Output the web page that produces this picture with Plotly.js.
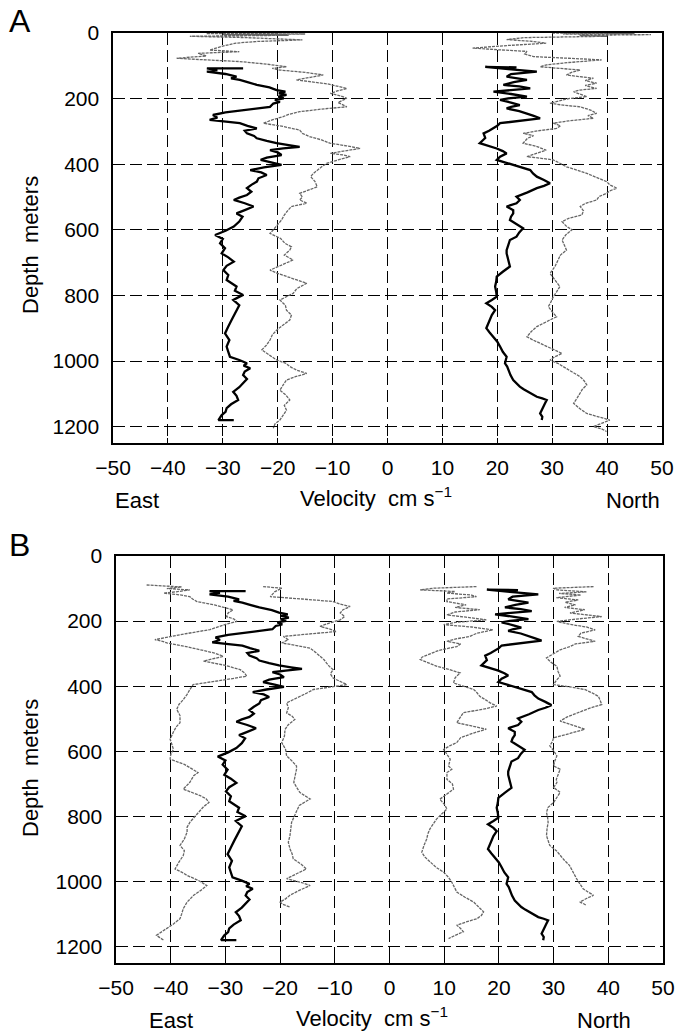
<!DOCTYPE html>
<html>
<head>
<meta charset="utf-8">
<script src="https://cdn.plot.ly/plotly-3.0.1.min.js"></script>
<style>html,body{margin:0;padding:0;background:#fff;}#chart{width:677px;height:1036px;}</style>
</head>
<body>
<div id="chart"></div>
<script>
// ---- data: [depth (m), velocity (cm/s)] ----
const blackEast = [[108,-26.3],[108,-32.9],[113,-31.0],[118,-32.9],[125,-29.5],[133,-27.5],[138,-28.5],[143,-26.9],[150,-25.5],[158,-23.8],[166,-21.5],[174,-20.2],[179,-18.6],[184,-19.8],[189,-18.4],[194,-19.9],[199,-18.9],[204,-20.5],[210,-19.6],[215,-20.8],[225,-21.4],[230,-24.0],[235,-26.9],[242,-29.5],[250,-31.8],[258,-31.0],[265,-32.4],[270,-29.5],[275,-26.9],[283,-25.5],[291,-23.8],[298,-26.0],[306,-25.6],[314,-24.3],[321,-23.8],[329,-22.0],[336,-20.2],[342,-18.0],[347,-16.0],[352,-19.0],[357,-21.4],[364,-20.0],[372,-19.3],[380,-22.0],[387,-23.1],[395,-21.0],[402,-19.3],[410,-22.5],[418,-25.0],[425,-23.0],[433,-22.0],[443,-23.5],[453,-23.8],[463,-24.8],[473,-25.6],[484,-24.8],[494,-25.6],[502,-27.0],[509,-28.0],[519,-26.0],[529,-24.4],[540,-26.0],[550,-27.5],[560,-26.4],[575,-27.0],[590,-28.0],[603,-29.5],[616,-31.4],[628,-30.0],[641,-30.5],[656,-29.6],[672,-30.2],[684,-29.0],[697,-28.0],[710,-29.3],[723,-29.9],[738,-29.0],[753,-29.3],[763,-28.4],[773,-27.5],[786,-27.8],[799,-26.3],[806,-27.2],[814,-28.1],[830,-27.0],[845,-27.5],[860,-28.0],[875,-28.4],[895,-29.0],[916,-29.6],[936,-28.8],[956,-29.3],[972,-29.0],[987,-28.7],[997,-27.0],[1007,-25.6],[1014,-26.2],[1022,-25.0],[1032,-26.0],[1043,-26.3],[1055,-25.6],[1068,-26.3],[1080,-27.0],[1094,-28.1],[1106,-27.5],[1119,-27.2],[1132,-28.5],[1144,-29.3],[1155,-29.5],[1165,-30.2],[1172,-30.5],[1180,-30.8],[1180,-28.0]];

const blackNorth = [[105,23.5],[103,17.8],[110,22.0],[118,27.2],[125,22.5],[133,21.7],[143,25.4],[150,23.0],[158,21.1],[163,24.0],[169,26.0],[174,23.0],[179,19.3],[186,22.5],[194,25.4],[199,22.0],[204,20.5],[212,22.5],[220,24.1],[225,22.5],[230,21.7],[238,24.0],[245,25.4],[252,26.5],[260,27.8],[268,24.0],[275,20.5],[283,20.0],[291,19.3],[298,18.5],[306,17.5],[320,17.8],[336,16.8],[344,18.5],[352,19.9],[360,21.0],[367,21.7],[377,20.5],[387,19.9],[395,21.5],[402,22.9],[410,24.5],[418,26.0],[428,26.5],[438,27.2],[448,28.5],[458,29.6],[466,28.5],[473,27.2],[486,25.5],[499,23.5],[509,24.1],[519,23.5],[529,21.7],[540,22.9],[550,22.9],[560,22.5],[570,22.3],[583,23.5],[595,24.7],[608,24.0],[621,23.5],[631,22.3],[646,22.0],[662,21.7],[672,21.7],[692,22.0],[712,22.3],[728,21.0],[743,19.9],[758,19.8],[773,19.6],[789,19.8],[804,19.9],[814,19.0],[824,18.0],[835,19.0],[845,19.6],[860,19.0],[875,18.6],[888,18.3],[900,18.0],[913,18.6],[926,19.3],[941,20.0],[956,20.5],[972,21.0],[987,21.7],[997,21.5],[1007,21.4],[1017,21.8],[1028,22.0],[1043,22.4],[1058,22.9],[1068,23.5],[1078,24.1],[1086,24.8],[1094,25.6],[1102,26.5],[1109,27.2],[1114,28.2],[1119,29.0],[1129,28.7],[1139,28.4],[1150,28.0],[1160,27.8],[1170,28.2],[1180,28.1]];

const grayEastA = [[0,-20],[2,-33],[3,-15],[5,-30],[7,-18],[10,-36],[14,-26],[21,-15.5],[26,-24],[31,-27.6],[40,-30],[52,-32.4],[57,-27],[62,-34.5],[70,-33],[77,-38.4],[82,-33],[87,-26.9],[95,-22],[103,-18.4],[108,-21],[113,-19.6],[120,-15],[128,-11.7],[135,-14],[143,-16.6],[155,-11],[169,-7.4],[176,-9],[184,-10.4],[192,-8.5],[199,-7.4],[212,-9],[225,-7.4],[232,-12],[240,-16],[248,-18],[255,-19],[265,-21],[275,-22.6],[285,-19],[296,-16],[306,-15.5],[316,-14.2],[326,-12],[336,-10.5],[344,-7.5],[352,-5.0],[360,-8],[367,-10.4],[372,-8],[377,-6.8],[387,-9],[397,-11],[408,-12],[418,-12.8],[428,-13.5],[438,-14],[453,-13.2],[469,-12.8],[479,-14.5],[489,-16],[500,-15.5],[509,-16.0],[519,-14.7],[529,-17.5],[540,-18.1],[555,-18.8],[570,-19.3],[590,-20.2],[600,-20.8],[611,-21.4],[626,-19.5],[641,-18.7],[652,-17.5],[662,-17.8],[677,-18.8],[692,-17.2],[708,-19.5],[723,-21.4],[733,-20.0],[743,-18.4],[753,-16.5],[763,-14.7],[779,-16.5],[794,-17.2],[804,-18.5],[814,-19.6],[830,-18.6],[845,-18.4],[860,-17.5],[875,-17.8],[890,-19.0],[906,-20.2],[921,-21.0],[936,-21.4],[951,-22.0],[966,-22.9],[982,-21.5],[997,-20.2],[1007,-18.5],[1017,-17.8],[1028,-16.5],[1038,-14.7],[1048,-16.8],[1058,-18.4],[1073,-19.0],[1089,-19.6],[1104,-18.5],[1119,-17.8],[1135,-18.8],[1150,-18.4],[1165,-19.0],[1180,-19.6],[1192,-20.5],[1205,-20.8]];

const grayNorthA = [[0,30],[2,45],[3,32],[5,48],[7,35],[10,40],[14,25],[20,21.7],[25,26],[31,28.9],[38,22],[46,15.5],[51,20],[56,25.4],[64,25],[72,26.6],[77,33],[82,39.0],[90,33],[97,29],[103,27.8],[108,31],[113,35.1],[120,33.5],[128,32.6],[133,35],[138,37.5],[145,36],[153,38.1],[160,36],[169,38.1],[174,35],[179,33.9],[186,35],[194,36.3],[200,33],[207,31],[214,29.6],[220,32],[225,35.1],[235,37],[245,38.1],[252,36.5],[260,37.5],[268,33],[275,30.2],[283,31.5],[291,30.8],[298,27.5],[306,24.7],[313,26.6],[321,25.5],[336,24.7],[345,27],[357,28.9],[367,27],[377,25.4],[382,28],[387,30.2],[398,31.5],[408,32.6],[418,34.5],[428,36.3],[440,38],[453,39.9],[463,40.5],[473,41.8],[481,40.5],[489,39.9],[499,38.5],[509,38.1],[520,36],[529,35.1],[542,35.7],[555,35.4],[565,33],[575,31.8],[588,32.5],[600,33.6],[615,32.5],[631,31.8],[646,32.2],[662,32.6],[677,31.5],[692,31.1],[712,30.5],[733,29.6],[753,30.5],[773,31.4],[789,30.8],[804,30.2],[819,29.8],[834,29.3],[850,30],[865,30.8],[880,29],[895,27.2],[910,26.2],[926,25.4],[936,26.5],[946,27.8],[962,30],[977,31.8],[987,30.5],[997,29.6],[1007,31],[1017,32.0],[1032,33.5],[1048,35.1],[1060,35.8],[1073,36.3],[1086,35.5],[1099,35.1],[1114,34.5],[1129,33.9],[1145,35],[1160,36.3],[1170,38.5],[1180,40.5],[1190,39],[1200,37.5],[1207,39],[1215,39.9]];

const grayEastLeftB = [[89,-44.4],[95,-38],[100,-40.7],[104,-36.5],[110,-39],[114,-41.3],[120,-38],[125,-36.5],[132,-36],[140,-35.2],[150,-32],[158,-30],[165,-28.6],[175,-29.5],[186,-29.8],[193,-28.5],[201,-27.9],[210,-30],[218,-31.5],[226,-32.8],[238,-37],[250,-41],[257,-42.9],[262,-41.5],[267,-40.7],[277,-37.5],[288,-34.6],[298,-32],[308,-30.4],[316,-32.5],[323,-34.0],[336,-30],[349,-27.3],[359,-26.5],[369,-26.1],[380,-30],[390,-34],[395,-35.9],[410,-36.5],[425,-37],[441,-37.7],[456,-38.5],[471,-38.9],[490,-38.3],[512,-38.3],[525,-39],[540,-39.5],[563,-40.1],[578,-39.8],[594,-39.5],[610,-40],[624,-40.1],[640,-37.5],[655,-36.0],[665,-35],[675,-35.8],[695,-36.5],[716,-37.7],[726,-36],[736,-34.6],[746,-33.5],[757,-33.0],[770,-34],[782,-34.6],[800,-35.5],[818,-36.5],[833,-37],[848,-37.0],[869,-37.5],[889,-38.3],[905,-37.5],[920,-37.7],[940,-38.5],[961,-39.2],[971,-38],[981,-37.0],[996,-35],[1012,-33.4],[1027,-34.5],[1042,-35.8],[1063,-37],[1083,-37.7],[1100,-38],[1114,-38.3],[1130,-39.5],[1144,-40.7],[1155,-41.8],[1165,-42.6],[1172,-42],[1180,-41.3]];

const grayEastRightB = [[94,-23.1],[99,-19.7],[110,-21.0],[125,-21.8],[132,-16],[140,-10.3],[148,-9],[155,-7.2],[165,-8.5],[175,-9.0],[186,-8.2],[196,-9.0],[206,-11],[216,-12.7],[224,-11],[232,-9.7],[240,-15],[247,-19.4],[257,-18.5],[267,-19.7],[275,-17],[283,-14.5],[296,-13.5],[308,-12.7],[318,-12],[329,-11.5],[339,-11],[349,-10.3],[362,-10.8],[375,-10.3],[385,-9],[395,-7.8],[403,-11],[410,-13.9],[420,-15],[431,-16.4],[441,-17.5],[451,-18.8],[466,-18.5],[482,-18.8],[492,-17.8],[502,-17.3],[518,-18.5],[533,-19.1],[553,-19.2],[573,-19.7],[594,-19.0],[614,-18.8],[630,-17.8],[645,-17.0],[655,-17.0],[675,-17.2],[695,-17.5],[710,-17.0],[726,-16.4],[736,-15.5],[746,-14.5],[766,-16.5],[787,-17.0],[803,-17.5],[818,-17.9],[840,-18.0],[859,-18.2],[879,-18.5],[899,-18.2],[915,-17.8],[930,-17.6],[946,-16.2],[961,-15.2],[976,-17],[991,-18.8],[1002,-16.2],[1012,-14.5],[1027,-16.5],[1042,-18.2],[1053,-19],[1063,-20.0],[1070,-19.5],[1078,-18.2]];

const grayNorthLeftB = [[94,15.9],[99,8],[104,5.6],[109,12],[114,10.5],[120,15],[125,15.9],[132,10.5],[140,10.5],[150,14],[158,12],[165,16.5],[172,12],[181,10.5],[188,14],[196,17.7],[204,12],[211,9.9],[218,15],[227,18.9],[237,16],[247,14.7],[255,12],[262,10.5],[270,13],[278,12.3],[290,9],[303,6.8],[310,6],[318,5.6],[328,7],[339,8.7],[349,11],[359,12.9],[374,12],[390,11.7],[400,13.5],[410,15.4],[420,16],[431,16.5],[441,17.5],[451,18.4],[461,19.6],[471,17],[481,13.5],[497,12.8],[512,12.3],[522,15],[532,17.7],[543,15.5],[558,13],[573,12.3],[583,11],[594,9.9],[610,10.5],[624,11.1],[645,10.8],[655,11.4],[665,10.5],[686,10.5],[700,11.5],[716,11.7],[731,10.5],[747,9.2],[762,10],[777,10.5],[793,9.5],[808,8.6],[823,8],[838,7.4],[854,7],[869,6.8],[889,6.3],[910,5.9],[925,6.5],[940,7.4],[956,8.5],[971,9.9],[987,10.8],[1002,11.4],[1017,11.8],[1032,12.3],[1048,13.8],[1063,15.4],[1078,16.3],[1093,17.2],[1104,16.8],[1114,16.0],[1124,14],[1134,12.3],[1144,13],[1154,13.5],[1165,12],[1175,10.8]];

const grayNorthRightB = [[94,37.3],[97,32],[99,29.9],[104,30.6],[110,36],[115,31],[120,35],[128,30.5],[135,34.5],[142,32.1],[150,34],[158,32],[165,35.7],[175,33],[186,38.8],[194,34],[201,30.6],[210,33],[218,36],[227,37.6],[237,35],[247,34.5],[255,36],[262,37.6],[270,34],[278,33],[288,31.2],[300,30],[313,28.7],[326,29.5],[339,30.6],[354,30.8],[369,31.2],[382,30.5],[395,30.0],[402,33],[410,35.7],[420,37],[431,38.2],[443,38.5],[456,38.8],[468,36.5],[481,34.5],[494,32.5],[507,31.2],[520,33.5],[532,35.7],[545,33],[558,30],[570,29.8],[583,29.3],[598,30],[614,30.6],[630,30.2],[645,30],[655,31.2],[665,31],[686,30.5],[696,30.6],[711,30],[726,31.2],[742,30.5],[757,30],[772,29],[787,28.7],[803,28.9],[818,29],[838,28.8],[859,28.7],[874,29],[889,29.3],[905,30.5],[920,31.2],[935,32],[950,32.9],[970,33.5],[991,34.2],[1007,34.8],[1022,35.4],[1032,36.3],[1042,37.3],[1052,36],[1063,34.8],[1068,35.5],[1073,36]];

const xTicks = [-50,-40,-30,-20,-10,0,10,20,30,40,50];
const yTicks = [0,200,400,600,800,1000,1200];
const panelLabels = ['A','B'];
const depthLabel = 'Depth\u00a0\u00a0meters';
const eastLabel = 'East', northLabel = 'North';
const velLabel = 'Velocity\u00a0\u00a0cm s<sup>\u22121</sup>';

// ---- drawing ----
const FONT = 'Liberation Sans, Arial, Helvetica, sans-serif';
function line(series, xa, ya, kind) {
  const black = kind === 'black';
  return {
    type: 'scatter', mode: 'lines',
    x: series.map(p => p[1]), y: series.map(p => p[0]),
    xaxis: xa, yaxis: ya, hoverinfo: 'skip', showlegend: false,
    line: black ? {color: '#000', width: 2.3} : {color: '#666', width: 1.3, dash: '3px,1px'}
  };
}
const traces = [
  line(grayEastA, 'x', 'y', 'gray'),
  line(grayNorthA, 'x', 'y', 'gray'),
  line(blackEast, 'x', 'y', 'black'),
  line(blackNorth, 'x', 'y', 'black'),
  line(grayEastLeftB, 'x2', 'y2', 'gray'),
  line(grayEastRightB, 'x2', 'y2', 'gray'),
  line(grayNorthLeftB, 'x2', 'y2', 'gray'),
  line(grayNorthRightB, 'x2', 'y2', 'gray'),
  line(blackEast, 'x2', 'y2', 'black'),
  line(blackNorth, 'x2', 'y2', 'black')
];
const common = {
  showgrid: true, gridcolor: '#000', gridwidth: 1, griddash: '12px,5px',
  zeroline: false, showline: true, mirror: true, linecolor: '#000', linewidth: 1.6,
  ticks: 'inside', ticklen: 5, tickcolor: '#000', tickwidth: 1,
  tickfont: {family: FONT, size: 21, color: '#000'}, fixedrange: true
};
function xax(domain, anchor) {
  return Object.assign({}, common, {domain, anchor, range: [-50, 50], tickmode: 'array', tickvals: xTicks, ticklabelstandoff: 5});
}
function yax(domain, anchor) {
  return Object.assign({}, common, {domain, anchor, range: [1250, 0], tickmode: 'array', tickvals: yTicks, ticklabelstandoff: 8});
}
function ann(text, x, y, opts) {
  return Object.assign({text, x, y, xref: 'paper', yref: 'paper', showarrow: false,
    font: {family: FONT, size: 22, color: '#000'}, xanchor: 'center', yanchor: 'middle'}, opts || {});
}
const W = 677, H = 1036;
const px = v => v / W, py = v => 1 - v / H;
const layout = {
  width: W, height: H, margin: {l: 0, r: 0, t: 0, b: 0},
  paper_bgcolor: '#fff', plot_bgcolor: '#fff', showlegend: false,
  xaxis: xax([px(113), px(662)], 'y'),
  yaxis: yax([py(443), py(33)], 'x'),
  xaxis2: xax([px(116), px(663)], 'y2'),
  yaxis2: yax([py(963), py(556)], 'x2'),
  annotations: [
    ann(panelLabels[0], px(7), py(21.5), {xanchor: 'left', font: {family: FONT, size: 32, color: '#000'}}),
    ann(panelLabels[1], px(7), py(544.5), {xanchor: 'left', font: {family: FONT, size: 32, color: '#000'}}),
    ann(depthLabel, px(30), py(245), {textangle: -90}),
    ann(depthLabel, px(30), py(768), {textangle: -90}),
    ann(eastLabel, px(113), py(500.5), {xanchor: 'left'}),
    ann(velLabel, px(376), py(497), {}),
    ann(northLabel, px(662), py(500.5), {xanchor: 'right'}),
    ann(eastLabel, px(171), py(1020.5), {}),
    ann(velLabel, px(372), py(1017), {}),
    ann(northLabel, px(604), py(1020.5), {})
  ]
};
Plotly.newPlot('chart', traces, layout, {staticPlot: true, displayModeBar: false});
</script>
</body>
</html>
